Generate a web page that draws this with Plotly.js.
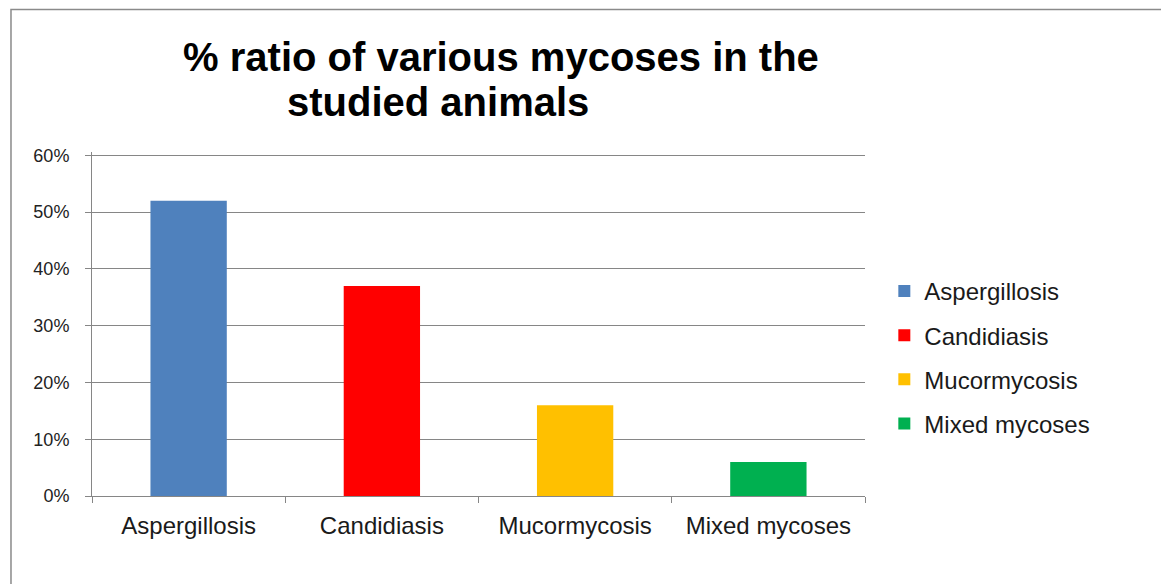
<!DOCTYPE html>
<html>
<head>
<meta charset="utf-8">
<script src="https://cdn.plot.ly/plotly-3.0.1.min.js"></script>
<style>
html,body{margin:0;padding:0;background:#fff;}
#chart{width:1161px;height:584px;}
</style>
</head>
<body>
<div id="chart"></div>
<script>
const categories = ["Aspergillosis", "Candidiasis", "Mucormycosis", "Mixed mycoses"];
const values = [0.52, 0.37, 0.16, 0.06];
const colors = ["#4F81BD", "#FF0000", "#FFC000", "#00B050"];
const yTickVals = [0, 0.1, 0.2, 0.3, 0.4, 0.5, 0.6];
const yTickText = ["0%", "10%", "20%", "30%", "40%", "50%", "60%"];
const titleLine1 = "% ratio of various mycoses in the";
const titleLine2 = "studied animals";

const font = "Liberation Sans, Arial, sans-serif";

const traces = categories.map((c, i) => ({
  type: "bar",
  name: c,
  x: [c],
  y: [values[i]],
  marker: {color: colors[i]},
  legendgroup: "g" + i,
  hoverinfo: "x+y"
}));

const layout = {
  width: 1161,
  height: 584,
  margin: {l: 92, r: 296, t: 152, b: 88},
  paper_bgcolor: "#fff",
  plot_bgcolor: "#fff",
  barmode: "overlay",
  bargap: 0.605,
  showlegend: true,
  font: {family: font, color: "#222"},
  title: {
    text: titleLine1,
    font: {family: font, size: 40, color: "#000", weight: "bold"},
    xref: "container", yref: "container",
    x: 0.4315, xanchor: "center",
    y: 0.902, yanchor: "middle"
  },
  annotations: [{
    text: "<b>" + titleLine2 + "</b>",
    xref: "paper", yref: "paper",
    x: 0.448, y: 1.144, xanchor: "center", yanchor: "middle",
    showarrow: false,
    font: {family: font, size: 40, color: "#000"}
  }],
  xaxis: {
    type: "category",
    categoryarray: categories,
    showgrid: false,
    showline: true,
    linecolor: "#868686",
    linewidth: 1,
    ticks: "outside",
    tickson: "boundaries",
    ticklen: 6,
    tickcolor: "#868686",
    ticklabelstandoff: 8,
    tickfont: {family: font, size: 24, color: "#1a1a1a"},
    zeroline: false
  },
  yaxis: {
    range: [0, 0.606],
    tickvals: yTickVals,
    ticktext: yTickText,
    showgrid: true,
    gridcolor: "#868686",
    gridwidth: 1,
    showline: true,
    linecolor: "#868686",
    ticks: "outside",
    ticklen: 6,
    tickcolor: "#868686",
    ticklabelstandoff: 12,
    tickfont: {family: font, size: 18, color: "#222"},
    zeroline: false,
    fixedrange: true
  },
  legend: {
    x: 1.025, xanchor: "left",
    y: 0.403, yanchor: "middle",
    traceorder: "grouped",
    tracegroupgap: 10,
    font: {family: font, size: 24, color: "#1a1a1a"},
    bgcolor: "rgba(0,0,0,0)",
    itemwidth: 30
  },
  shapes: [{
    type: "rect",
    xref: "paper", yref: "paper",
    x0: -0.1048, x1: 1.40, y0: -0.30, y1: 1.414,
    line: {color: "#8a8a8a", width: 1.5},
    fillcolor: "rgba(0,0,0,0)",
    layer: "below"
  }]
};

Plotly.newPlot("chart", traces, layout, {displayModeBar: false, staticPlot: true});
</script>
</body>
</html>
